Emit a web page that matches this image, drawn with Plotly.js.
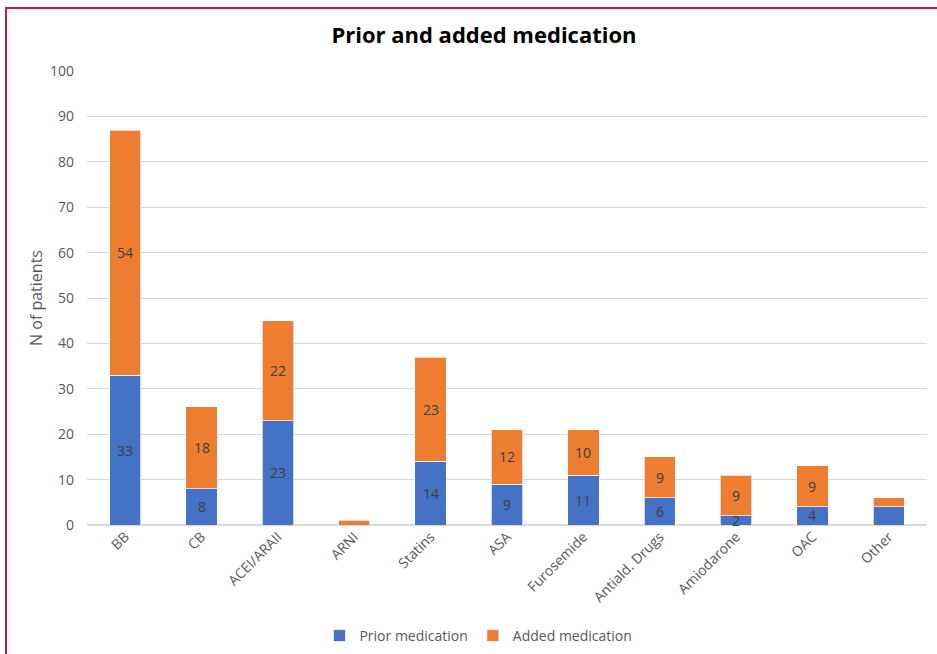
<!DOCTYPE html>
<html>
<head>
<meta charset="utf-8">
<script src="https://cdn.plot.ly/plotly-3.0.1.min.js"></script>
<style>
  html, body { margin: 0; padding: 0; background: #fff; overflow: hidden; }
  #frame { position: absolute; left: 5px; top: 7px; width: 940px; height: 660px;
           border-left: 2px solid #BE1E45; border-top: 2px solid #BE1E45; box-sizing: border-box; }
  #chart { position: absolute; left: 0; top: 0; width: 937px; height: 654px; }
</style>
</head>
<body>
<div id="frame"></div>
<div id="chart"></div>
<script>
// Medication categories and patient counts
const categories = ["BB", "CB", "ACEI/ARAII", "ARNI", "Statins", "ASA", "Furosemide",
                    "Antiald. Drugs", "Amiodarone", "OAC", "Other"];
const priorMedication = [33, 8, 23, 0, 14, 9, 11, 6, 2, 4, 4];
const addedMedication = [54, 18, 22, 1, 23, 12, 10, 9, 9, 9, 2];
// Which segments carry a value label
const priorLabelled = [true, true, true, false, true, true, true, true, true, true, false];
const addedLabelled = [true, true, true, false, true, true, true, true, true, true, false];

const FONT = "'Open Sans', 'Noto Sans', sans-serif";
const BLUE = "#4472C4";
const ORANGE = "#ED7D31";

const traces = [
  {
    type: "bar", name: "Prior medication", x: categories, y: priorMedication,
    marker: { color: BLUE, line: { color: "rgba(255,255,255,0.7)", width: 1 } },
    hoverinfo: "x+y+name"
  },
  {
    type: "bar", name: "Added medication", x: categories, y: addedMedication,
    marker: { color: ORANGE, line: { color: "rgba(255,255,255,0.7)", width: 1 } },
    hoverinfo: "x+y+name"
  }
];

// Value labels centred in each stacked segment
const annotations = [];
categories.forEach((c, i) => {
  if (priorLabelled[i]) {
    annotations.push({ x: c, y: priorMedication[i] / 2, text: String(priorMedication[i]),
      showarrow: false, font: { family: FONT, size: 14, color: "#404040" } });
  }
  if (addedLabelled[i]) {
    annotations.push({ x: c, y: priorMedication[i] + addedMedication[i] / 2,
      text: String(addedMedication[i]),
      showarrow: false, font: { family: FONT, size: 14, color: "#404040" } });
  }
});

const layout = {
  width: 937, height: 654,
  paper_bgcolor: "rgba(0,0,0,0)", plot_bgcolor: "rgba(0,0,0,0)",
  margin: { l: 87, r: 10, t: 71, b: 129 },
  barmode: "stack", bargap: 0.59,
  font: { family: FONT, color: "#595959", size: 14 },
  title: {
    text: "<b>Prior and added medication</b>",
    font: { family: FONT, size: 22, color: "#000" },
    xref: "paper", x: 0.4726, xanchor: "center",
    yref: "container", y: 1 - 35 / 654, yanchor: "middle",
    automargin: false
  },
  xaxis: {
    type: "category", tickangle: -45, showgrid: false, showline: false,
    ticks: "", automargin: false, tickfont: { family: FONT, size: 14, color: "#595959" }
  },
  yaxis: {
    range: [0, 100], dtick: 10, tick0: 0,
    showgrid: true, gridcolor: "#D9D9D9", gridwidth: 1,
    zeroline: true, zerolinecolor: "#D9D9D9", zerolinewidth: 1.5,
    showline: false, ticks: "", ticklabelstandoff: 12, automargin: false,
    tickfont: { family: FONT, size: 14, color: "#595959" },
    title: { text: "N of patients", font: { family: FONT, size: 16, color: "#595959" }, standoff: 3 }
  },
  legend: {
    orientation: "h", xref: "paper", x: 0.466, xanchor: "center",
    yref: "container", y: 1 - 636 / 654, yanchor: "middle",
    font: { family: FONT, size: 14, color: "#595959" },
    itemwidth: 30, traceorder: "normal"
  },
  annotations: annotations,
  showlegend: true
};

Plotly.newPlot("chart", traces, layout, { displayModeBar: false, staticPlot: true });
</script>
</body>
</html>
